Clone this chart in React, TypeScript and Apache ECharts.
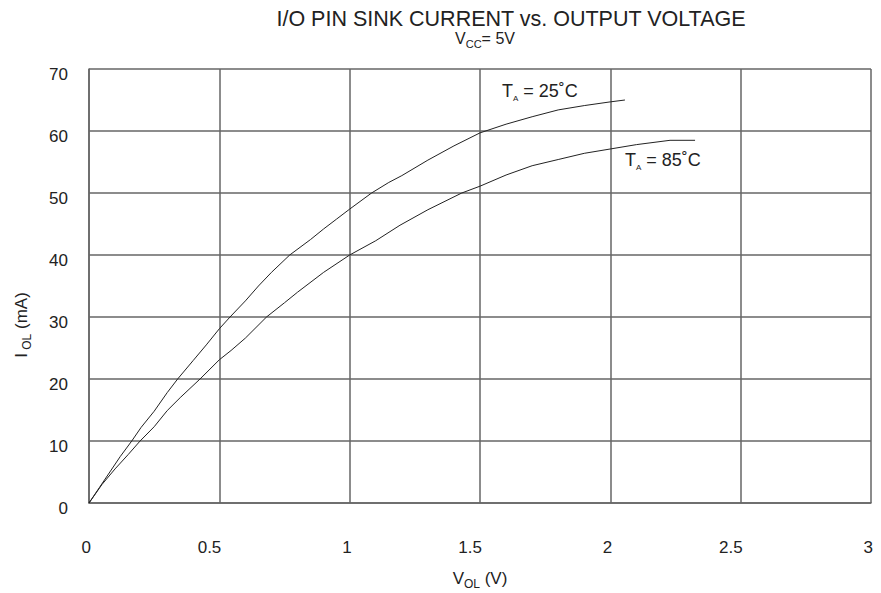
import React, { useEffect, useRef } from "react";
import * as echarts from "echarts";

const xTicks = [0, 0.5, 1, 1.5, 2, 2.5, 3];
const yTicks = [0, 10, 20, 30, 40, 50, 60, 70];

const v25 = [0, 0.04, 0.08, 0.12, 0.164, 0.2, 0.25, 0.3, 0.34, 0.4, 0.45, 0.5, 0.541, 0.6, 0.65, 0.7, 0.77, 0.85, 0.9, 0.95, 1.0, 1.084, 1.15, 1.2, 1.3, 1.4, 1.5, 1.6, 1.7, 1.8, 1.9, 2.0, 2.056];
const i25 = [0, 2.5, 5, 7.5, 10, 12.2, 14.8, 17.8, 20, 23, 25.5, 28.1, 30, 32.6, 35, 37.2, 40, 42.5, 44.2, 45.8, 47.4, 50, 51.7, 52.8, 55.3, 57.6, 59.7, 61.1, 62.3, 63.4, 64.1, 64.7, 65.0];

const v85 = [0, 0.05, 0.1, 0.15, 0.196, 0.25, 0.3, 0.35, 0.426, 0.5, 0.545, 0.6, 0.681, 0.75, 0.8, 0.9, 1.0, 1.1, 1.193, 1.3, 1.43, 1.5, 1.6, 1.7, 1.8, 1.9, 2.0, 2.1, 2.229, 2.325];
const i85 = [0, 3, 5.5, 7.8, 10, 12.3, 14.9, 17, 20, 23.1, 24.6, 26.6, 30, 32.3, 34, 37.2, 40, 42.3, 44.8, 47.3, 50, 51.1, 52.9, 54.4, 55.4, 56.4, 57.1, 57.8, 58.5, 58.5];

const FONT = "'Liberation Sans', Arial, sans-serif";
const INK = "#222";

function subRich(main: number, sub: number, drop: number) {
  return {
    m: { fontSize: main, lineHeight: main, verticalAlign: "top", fill: INK, fontFamily: FONT },
    s: { fontSize: sub, lineHeight: main + drop, verticalAlign: "bottom", fill: INK, fontFamily: FONT },
  };
}

export default function App() {
  const ref = useRef<HTMLDivElement>(null);
  useEffect(() => {
    if (!ref.current) return;
    const chart = echarts.init(ref.current, undefined, { renderer: "svg" });
    const gridLine = { color: "#666", width: 1.5 };
    chart.setOption({
      animation: false,
      backgroundColor: "#fff",
      textStyle: { fontFamily: FONT },
      grid: { left: 89, right: 10, top: 69, bottom: 90, containLabel: false },
      xAxis: {
        type: "value",
        min: xTicks[0],
        max: xTicks[xTicks.length - 1],
        interval: 0.5,
        axisLine: { show: true, lineStyle: gridLine },
        axisTick: { show: false },
        splitLine: { show: true, lineStyle: gridLine },
        axisLabel: { color: INK, fontSize: 17, fontFamily: FONT, margin: 36, align: "right", padding: [0, -2, 0, 0] },
      },
      yAxis: {
        type: "value",
        min: yTicks[0],
        max: yTicks[yTicks.length - 1],
        interval: 10,
        axisLine: { show: true, lineStyle: gridLine },
        axisTick: { show: false },
        splitLine: { show: true, lineStyle: gridLine },
        axisLabel: { color: INK, fontSize: 17, fontFamily: FONT, margin: 21, verticalAlign: "top", lineHeight: 10 },
      },
      series: [
        {
          type: "line",
          name: "TA = 25°C",
          data: v25.map((v, k) => [v, i25[k]]),
          showSymbol: false,
          lineStyle: { color: INK, width: 1 },
        },
        {
          type: "line",
          name: "TA = 85°C",
          data: v85.map((v, k) => [v, i85[k]]),
          showSymbol: false,
          lineStyle: { color: INK, width: 1 },
        },
      ],
      graphic: [
        {
          type: "text",
          x: 511,
          y: 9,
          style: { text: "I/O PIN SINK CURRENT vs. OUTPUT VOLTAGE", fontSize: 21.5, lineHeight: 19, fontFamily: FONT, fill: INK, textAlign: "center" },
        },
        {
          type: "text",
          x: 485,
          y: 30,
          style: {
            text: "{m|V}{s|CC}{m|= 5V}",
            fontFamily: FONT,
            fill: INK,
            textAlign: "center",
            rich: subRich(16, 11, 3),
          },
        },
        {
          type: "text",
          x: 502,
          y: 82,
          style: {
            text: "{m|T}{s|A}{m| = 25˚C}",
            fontFamily: FONT,
            fill: INK,
            rich: subRich(18, 8, 2),
          },
        },
        {
          type: "text",
          x: 625,
          y: 151,
          style: {
            text: "{m|T}{s|A}{m| = 85˚C}",
            fontFamily: FONT,
            fill: INK,
            rich: subRich(18, 8, 2),
          },
        },
        {
          type: "text",
          x: 480,
          y: 570,
          style: {
            text: "{m|V}{s|OL}{m| (V)}",
            fontFamily: FONT,
            fill: INK,
            textAlign: "center",
            rich: subRich(17, 12, 3),
          },
        },
        {
          type: "text",
          x: 13,
          y: 325,
          rotation: Math.PI / 2,
          style: {
            text: "{m|I}{s| OL}{m| (mA)}",
            fontFamily: FONT,
            fill: INK,
            textAlign: "center",
            textVerticalAlign: "top",
            rich: subRich(17, 12, 3),
          },
        },
      ],
    });
    return () => chart.dispose();
  }, []);
  return <div ref={ref} style={{ position: "fixed", left: 0, top: 0, width: 881, height: 593 }} />;
}
